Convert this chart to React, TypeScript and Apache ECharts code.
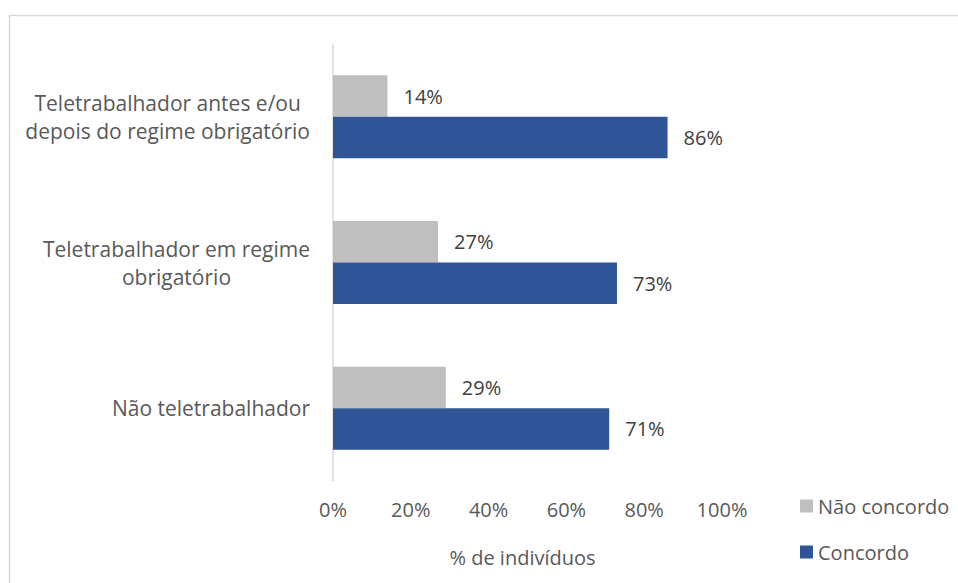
import React, { useEffect, useRef } from "react";
import * as echarts from "echarts";

const categories = [
  "Teletrabalhador antes e/ou\ndepois do regime obrigatório",
  "Teletrabalhador em regime\nobrigatório",
  "Não teletrabalhador",
];
const naoConcordo = [14, 27, 29];
const concordo = [86, 73, 71];
const seriesNames = ["Não concordo", "Concordo"];
const xTicks = [0, 20, 40, 60, 80, 100];
const axisName = "% de indivíduos";

const FONT = "'Open Sans', sans-serif";

export default function App() {
  const ref = useRef<HTMLDivElement>(null);
  useEffect(() => {
    if (!ref.current) return;
    const chart = echarts.init(ref.current, undefined, { renderer: "svg" });
    chart.setOption({
      animation: false,
      backgroundColor: "#ffffff",
      textStyle: { fontFamily: FONT },
      graphic: [
        {
          type: "polyline",
          shape: { points: [[9.5, 600], [9.5, 15.5], [970, 15.5]] },
          style: { stroke: "#D9D9D9", lineWidth: 1.5, fill: "none" },
          silent: true,
        },
      ],
      grid: { left: 333, top: 44, width: 389, height: 437, containLabel: false },
      xAxis: {
        type: "value",
        min: xTicks[0],
        max: xTicks[xTicks.length - 1],
        interval: 20,
        axisLine: { show: false },
        axisTick: { show: false },
        splitLine: { show: false },
        axisLabel: {
          formatter: "{value}%",
          color: "#595959",
          fontSize: 20,
          fontFamily: FONT,
          margin: 18,
        },
        name: axisName,
        nameLocation: "middle",
        nameGap: 66,
        nameTextStyle: { color: "#595959", fontSize: 20, fontFamily: FONT, padding: [0, 10, 0, 0] },
      },
      yAxis: {
        type: "category",
        data: categories,
        inverse: true,
        axisLine: { show: true, lineStyle: { color: "#D9D9D9", width: 1.5 } },
        axisTick: { show: false },
        axisLabel: {
          color: "#595959",
          fontSize: 21,
          fontFamily: FONT,
          margin: 23,
          lineHeight: 28,
          align: "right",
          formatter: (v: string) =>
            v
              .split("\n")
              .map((l) => `{c|${l}}`)
              .join("\n"),
          rich: {
            c: {
              align: "center",
              color: "#595959",
              fontSize: 21,
              fontFamily: FONT,
              lineHeight: 28,
            },
          },
        },
      },
      legend: {
        orient: "vertical",
        left: 795,
        top: 488,
        itemWidth: 13,
        itemHeight: 13,
        itemGap: 20,
        icon: "rect",
        data: seriesNames,
        textStyle: { color: "#595959", fontSize: 20, fontFamily: FONT, lineHeight: 26 },
      },
      series: [
        {
          name: seriesNames[0],
          type: "bar",
          data: naoConcordo,
          barGap: "0%",
          barCategoryGap: "43%",
          itemStyle: { color: "#BFBFBF" },
          label: {
            show: true,
            position: "right",
            distance: 16,
            formatter: "{c}%",
            color: "#404040",
            fontSize: 20,
            fontFamily: FONT,
          },
        },
        {
          name: seriesNames[1],
          type: "bar",
          data: concordo,
          barGap: "0%",
          barCategoryGap: "43%",
          itemStyle: { color: "#2F5597" },
          label: {
            show: true,
            position: "right",
            distance: 16,
            formatter: "{c}%",
            color: "#404040",
            fontSize: 20,
            fontFamily: FONT,
          },
        },
      ],
    });
    return () => chart.dispose();
  }, []);
  return (
    <div
      ref={ref}
      style={{ position: "fixed", left: 0, top: 0, width: 958, height: 583 }}
    />
  );
}
